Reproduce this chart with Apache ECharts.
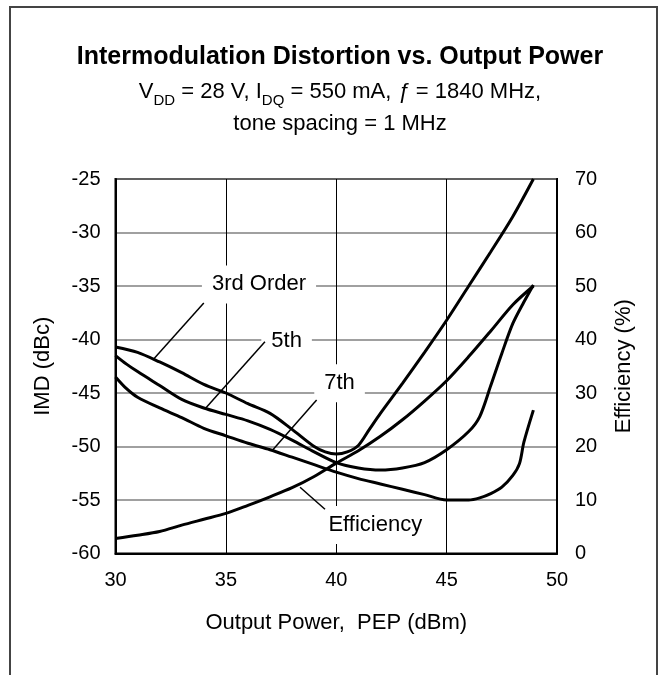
<!DOCTYPE html>
<html>
<head>
<meta charset="utf-8">
<script src="https://cdn.jsdelivr.net/npm/echarts@6/dist/echarts.min.js"></script>
<style>
  html, body { margin: 0; padding: 0; background: #fff; }
  #chart { width: 664px; height: 675px; }
</style>
</head>
<body>
<div id="chart"></div>
<script>
// values (power in dBm)
const imd3Power = [30, 31, 32, 33, 34, 35, 36, 37, 38, 39, 39.5, 40, 40.5, 41, 41.5, 42, 43, 44, 45, 46, 47, 48, 48.93]
const imd3Value = [-40.7, -41.2, -42.1, -43.1, -44.2, -45.0, -46.0, -46.9, -48.4, -50.0, -50.5, -50.7, -50.5, -49.9, -48.4, -46.9, -44.1, -41.2, -38.2, -35.0, -31.8, -28.5, -25.0]

const imd5Power = [30, 30.5, 31, 32, 33, 34, 35, 36, 37, 38, 39, 40, 41, 42, 43, 44, 45, 46, 46.5, 47, 47.5, 48, 48.5, 48.93]
const imd5Value = [-41.5, -42.3, -43.0, -44.3, -45.6, -46.4, -47.0, -47.6, -48.4, -49.4, -50.5, -51.5, -52.0, -52.2, -52.0, -51.5, -50.3, -48.6, -47.2, -44.3, -41.3, -38.5, -36.5, -34.9]

const imd7Power = [30, 30.5, 31, 32, 33, 34, 35, 36, 37, 38, 39, 40, 41, 42, 43, 44, 45, 46, 46.5, 47, 47.5, 48, 48.3, 48.5, 48.93]
const imd7Value = [-43.5, -44.6, -45.4, -46.4, -47.3, -48.3, -49.0, -49.7, -50.3, -51.0, -51.7, -52.4, -53.0, -53.5, -54.0, -54.5, -55.0, -55.0, -54.8, -54.4, -53.8, -52.7, -51.6, -49.6, -46.6]

const effPower = [30, 31, 32, 33, 34, 35, 36, 37, 38, 39, 40, 41, 42, 43, 44, 45, 46, 47, 48, 48.93]
const effValue = [2.8, 3.4, 4.1, 5.3, 6.4, 7.5, 9.0, 10.6, 12.3, 14.4, 16.9, 19.2, 21.9, 25.0, 28.5, 32.3, 36.8, 41.6, 46.5, 50.0]

// curve labels and their leader lines, in data units (dBm, dBc)
const labelNames = ['3rd Order', '5th', '7th', 'Efficiency']
const labelX = [36.5, 37.75, 40.15, 41.77]
const labelY = [-34.85, -40.1, -44.1, -57.34]
const leaderFrom = [[34.0, -36.6], [36.77, -40.2], [39.11, -45.65], [38.36, -53.81]]
const leaderTo = [[31.7, -41.9], [34.05, -46.5], [37.12, -50.33], [39.49, -55.87]]

const xTicks = [30, 50, 5]
const imdTicks = [-60, -25, 5]
const effTicks = [0, 70, 10]

const FONT = 'Liberation Sans, Arial, sans-serif'

const pairs = (xs, ys) => xs.map((x, i) => [x, ys[i]])

const chart = echarts.init(document.getElementById('chart'))

const curveStyle = {
  type: 'line',
  smooth: 0.3,
  showSymbol: false,
  symbol: 'none',
  lineStyle: {color: '#000', width: 3},
  z: 3,
}

const option = {
  backgroundColor: '#fff',
  animation: false,
  title: [
    {
      text: 'Intermodulation Distortion vs. Output Power',
      left: 335,
      textAlign: 'center',
      top: 40,
      textStyle: {fontFamily: FONT, fontWeight: 'bold', fontSize: 25, color: '#000'},
    },
    {
      text: '{n|V}{s|DD}{n| = 28 V, I}{s|DQ}{n| = 550 mA, }{f|ƒ}{n| = 1840 MHz,}\n{n|tone spacing = 1 MHz}',
      left: 335,
      textAlign: 'center',
      top: 71,
      textStyle: {
        fontFamily: FONT,
        fontWeight: 'normal',
        color: '#000',
        rich: {
          n: {fontFamily: FONT, fontWeight: 'normal', fontSize: 22, lineHeight: 32, color: '#000'},
          s: {fontFamily: FONT, fontWeight: 'normal', fontSize: 15, lineHeight: 32, verticalAlign: 'bottom', color: '#000'},
          f: {fontFamily: FONT, fontWeight: 'normal', fontSize: 22, lineHeight: 32, fontStyle: 'italic', color: '#000'},
        },
      },
    },
  ],
  graphic: [
    {
      type: 'polyline',
      shape: {points: [[10, 690], [10, 7], [657, 7], [657, 690]]},
      style: {stroke: '#444', lineWidth: 2, fill: null},
      silent: true,
    },
  ],
  grid: {
    left: 115.5,
    right: 107,
    top: 179,
    bottom: 121.5,
    show: true,
    borderColor: '#000',
    borderWidth: 2,
  },
  xAxis: {
    type: 'value',
    min: xTicks[0],
    max: xTicks[1],
    interval: xTicks[2],
    name: 'Output Power,  PEP (dBm)',
    nameLocation: 'middle',
    nameGap: 58,
    nameTextStyle: {fontFamily: FONT, fontSize: 22, color: '#000'},
    axisLine: {show: true, onZero: false, lineStyle: {color: '#000', width: 2}},
    axisTick: {show: false},
    axisLabel: {fontFamily: FONT, fontSize: 20, color: '#000', margin: 17},
    splitLine: {show: true, lineStyle: {color: '#000', width: 1}},
  },
  yAxis: [
    {
      type: 'value',
      min: imdTicks[0],
      max: imdTicks[1],
      interval: imdTicks[2],
      name: 'IMD (dBc)',
      nameLocation: 'middle',
      nameGap: 62,
      nameTextStyle: {fontFamily: FONT, fontSize: 22, color: '#000'},
      axisLine: {show: true, lineStyle: {color: '#000', width: 2}},
      axisTick: {show: false},
      axisLabel: {fontFamily: FONT, fontSize: 20, color: '#000', margin: 15},
      splitLine: {show: true, lineStyle: {color: '#808080', width: 1.5}},
    },
    {
      type: 'value',
      position: 'right',
      min: effTicks[0],
      max: effTicks[1],
      interval: effTicks[2],
      name: 'Efficiency (%)',
      nameLocation: 'middle',
      nameGap: 56,
      nameRotate: 90,
      nameTextStyle: {fontFamily: FONT, fontSize: 22, color: '#000'},
      axisLine: {show: true, lineStyle: {color: '#000', width: 2}},
      axisTick: {show: false},
      axisLabel: {fontFamily: FONT, fontSize: 20, color: '#000', margin: 18},
      splitLine: {show: false},
    },
  ],
  series: [
    {...curveStyle, name: '3rd Order', data: pairs(imd3Power, imd3Value)},
    {...curveStyle, name: '5th', data: pairs(imd5Power, imd5Value)},
    {...curveStyle, name: '7th', data: pairs(imd7Power, imd7Value)},
    {...curveStyle, name: 'Efficiency', yAxisIndex: 1, data: pairs(effPower, effValue)},
    {
      name: 'labels',
      type: 'scatter',
      symbolSize: 0,
      z: 4,
      itemStyle: {opacity: 1},
      data: labelNames.map((n, i) => ({name: n, value: [labelX[i], labelY[i]]})),
      label: {
        show: true,
        position: 'inside',
        formatter: (p) => p.name,
        fontFamily: FONT,
        fontSize: 22,
        color: '#000',
        opacity: 1,
        backgroundColor: '#fff',
        padding: [8, 10, 8, 10],
      },
    },
    {
      name: 'leaders',
      type: 'lines',
      coordinateSystem: 'cartesian2d',
      z: 5,
      lineStyle: {color: '#000', width: 1.5, opacity: 1},
      data: leaderFrom.map((a, i) => ({coords: [a, leaderTo[i]]})),
    },
  ],
}

chart.setOption(option)
</script>
</body>
</html>
